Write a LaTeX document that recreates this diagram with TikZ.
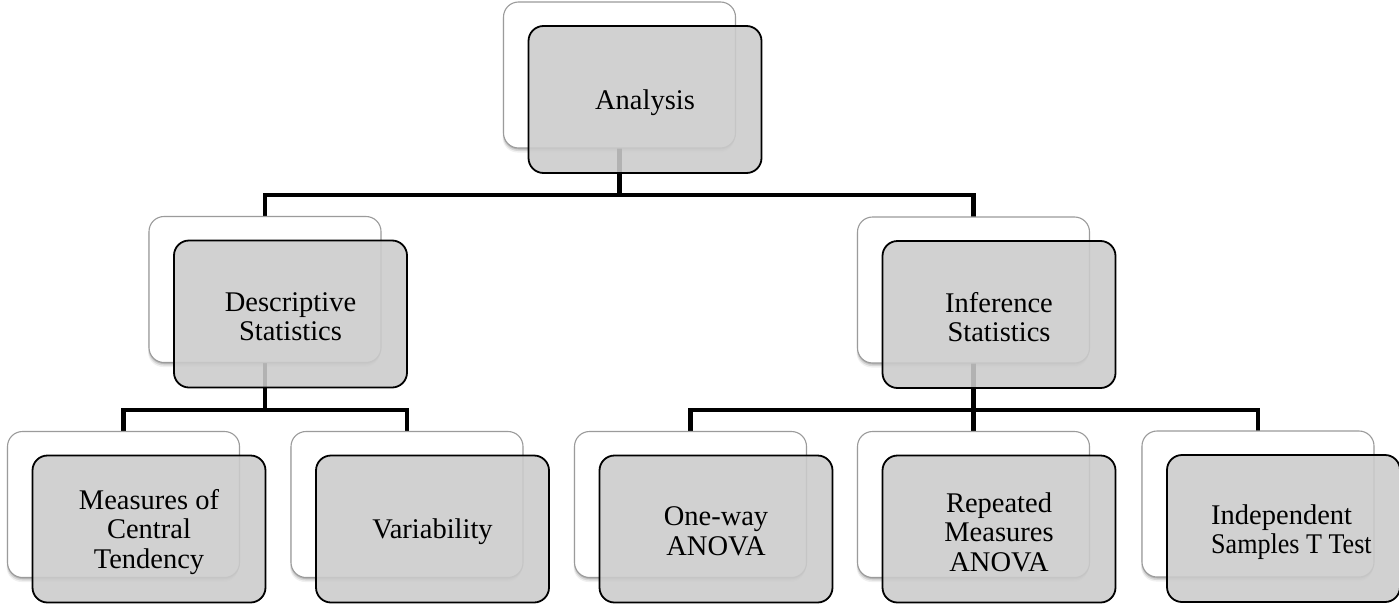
\documentclass[tikz,border=0pt]{standalone}
\usepackage{fontspec}
\setmainfont{Liberation Serif}
\usetikzlibrary{calc,shadows}
\pgfdeclarelayer{paper}
\pgfdeclarelayer{wires}
\pgfsetlayers{paper,wires,main}
\definecolor{cardgrey}{RGB}{203,203,203}
\definecolor{edgegrey}{RGB}{155,155,155}
\tikzset{
  backbox/.style={rectangle, rounded corners=15pt, minimum width=232pt, minimum height=146pt,
    inner sep=0pt, draw=edgegrey, line width=1.1pt, fill=white,
    general shadow={shadow xshift=-1pt, shadow yshift=-4.5pt, fill=black, opacity=0.06},
    general shadow={shadow xshift=-0.5pt, shadow yshift=-3pt, fill=black, opacity=0.10},
    general shadow={shadow xshift=0pt, shadow yshift=-1.5pt, fill=black, opacity=0.14}},
  frontbox/.style={rectangle, rounded corners=15pt, minimum width=233pt, minimum height=147pt,
    inner sep=0pt, draw=black, line width=1.8pt, fill=cardgrey, fill opacity=0.88},
  cardtext/.style={align=center, inner sep=0pt, font=\fontsize{28.5}{29.5}\selectfont},
  conn/.style={line width=4.7pt, draw=black}
}
\begin{document}
\begin{tikzpicture}[x=1pt,y=-1pt]
\useasboundingbox (0,0) rectangle (1399,605);
\begin{pgfonlayer}{paper}
  \fill[white] (0,0) rectangle (1399,605);
\end{pgfonlayer}

% back cards
\node[backbox] (Ab) at (619.5,75) {};
\node[backbox] (Db) at (265,289.5) {};
\node[backbox] (Ib) at (973.5,290) {};
\node[backbox] (Mb) at (123.5,504.5) {};
\node[backbox] (Vb) at (407,504.5) {};
\node[backbox] (Ob) at (690.5,504.5) {};
\node[backbox] (Rb) at (973.5,504.5) {};
\node[backbox] (Tb) at (1258,504) {};

% front cards
\node[frontbox] (A) at ($(Ab)+(25.5,24.5)$) {};
\node[frontbox] (D) at ($(Db)+(25.5,24.5)$) {};
\node[frontbox] (I) at ($(Ib)+(25.5,24.5)$) {};
\node[frontbox] (M) at ($(Mb)+(25.5,24.5)$) {};
\node[frontbox] (V) at ($(Vb)+(25.5,24.5)$) {};
\node[frontbox] (O) at ($(Ob)+(25.5,24.5)$) {};
\node[frontbox] (R) at ($(Rb)+(25.5,24.5)$) {};
\node[frontbox] (T) at ($(Tb)+(25.5,24.5)$) {};

% labels
\node[cardtext] (At) at ($(A)+(0,3)$) {Analysis};
\node[cardtext] (Dt) at ($(D)+(0,2.5)$) {Descriptive\\Statistics};
\node[cardtext] (It) at ($(I)+(0,2.5)$) {Inference\\Statistics};
\node[cardtext] (Mt) at ($(M)+(0,3)$) {Measures of\\Central\\Tendency};
\node[cardtext] (Vt) at ($(V)+(0,3)$) {Variability};
\node[cardtext] (Ot) at ($(O)+(0,2.5)$) {One-way\\ANOVA};
\node[cardtext] (Rt) at ($(R)+(0,3)$) {Repeated\\Measures\\ANOVA};
\node[cardtext, align=left, anchor=west] (Tt) at ($(T)+(-72.5,3.5)$) {Independent\\\scalebox{0.915}[1]{Samples T Test}};

% connectors behind the cards
\coordinate (busA) at (0,195);
\coordinate (busB) at (0,410);
\begin{pgfonlayer}{wires}
  \draw[conn] (Ab.center) -- (Ab.center |- busA) -| (Db.center);
  \draw[conn] (Ab.center |- busA) -| (Ib.center);
  \draw[conn] (Db.center) -- (Db.center |- busB) -| (Mb.center);
  \draw[conn] (Db.center |- busB) -| (Vb.center);
  \draw[conn] (Ib.center) -- (Ib.center |- busB) -| (Ob.center);
  \draw[conn] (Ib.center |- busB) -| (Rb.center);
  \draw[conn] (Ib.center |- busB) -| (Tb.center);
\end{pgfonlayer}
\end{tikzpicture}
\end{document}
